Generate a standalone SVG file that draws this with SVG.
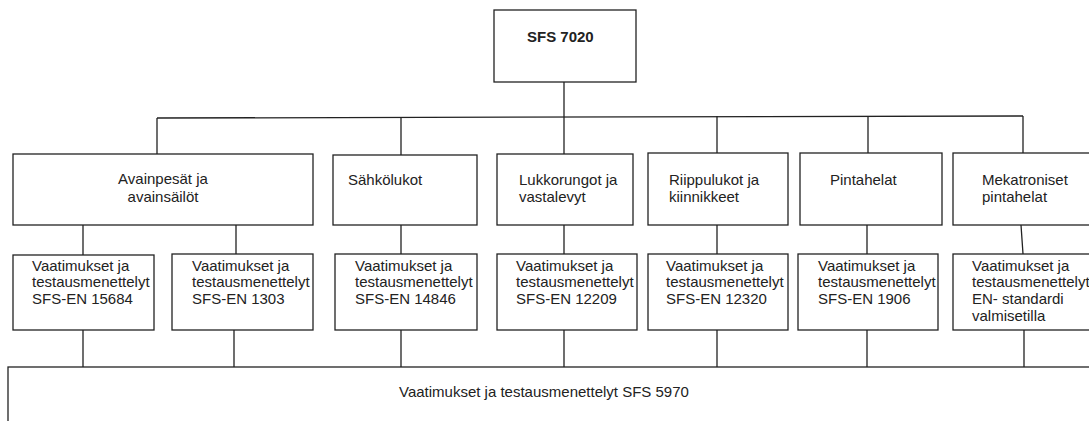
<svg xmlns="http://www.w3.org/2000/svg" width="1089" height="421" viewBox="0 0 1089 421">
<style>
.box{fill:#fff;stroke:#222;stroke-width:1.3}
.ln{stroke:#222;stroke-width:1.3;fill:none}
text{font-family:"Liberation Sans",Arial,sans-serif;font-size:15px;fill:#222}
.b{font-weight:bold}
</style>
<rect width="1089" height="421" fill="#fff"/>
<g id="connectors">
<path class="ln" d="M564 82V154"/>
<path class="ln" d="M157 118L1023 116"/>
<path class="ln" d="M157 118V154M401 117V155M717 116V153M868 116V153M1023 116V153"/>
<path class="ln" d="M83 225V255M236 225V254M401 225V254M564 225V254M717 225V254M867 225V254M1021 225L1023 254"/>
<path class="ln" d="M83 330V367M234 330V367M401 330V367M564 330V367M717 330V367M867 330V367M1024 330V367"/>
</g>
<g id="n-root"><rect class="box" x="494" y="10" width="142" height="72"/><text class="b" x="527" y="42">SFS 7020</text></g>
<g id="n-avain"><rect class="box" x="13" y="154" width="300" height="71"/><text x="163" y="184" text-anchor="middle">Avainpesät ja</text><text x="163" y="202" text-anchor="middle">avainsäilöt</text></g>
<g id="n-sahko"><rect class="box" x="333" y="155" width="144" height="70"/><text x="348" y="185">Sähkölukot</text></g>
<g id="n-lukko"><rect class="box" x="497" y="154" width="136" height="71"/><text x="519" y="185">Lukkorungot ja</text><text x="519" y="202">vastalevyt</text></g>
<g id="n-riippu"><rect class="box" x="648" y="153" width="140" height="72"/><text x="669" y="185">Riippulukot ja</text><text x="669" y="202">kiinnikkeet</text></g>
<g id="n-pinta"><rect class="box" x="800" y="153" width="142" height="72"/><text x="830" y="185">Pintahelat</text></g>
<g id="n-meka"><rect class="box" x="953" y="153" width="145" height="72"/><text x="982" y="185">Mekatroniset</text><text x="982" y="202">pintahelat</text></g>
<g id="n-15684"><rect class="box" x="13" y="255" width="141" height="75"/><text x="32" y="271">Vaatimukset ja</text><text x="32" y="287">testausmenettelyt</text><text x="32" y="304">SFS-EN 15684</text></g>
<g id="n-1303"><rect class="box" x="172" y="254" width="141" height="76"/><text x="192" y="271">Vaatimukset ja</text><text x="192" y="287">testausmenettelyt</text><text x="192" y="304">SFS-EN 1303</text></g>
<g id="n-14846"><rect class="box" x="335" y="254" width="142" height="76"/><text x="355" y="271">Vaatimukset ja</text><text x="355" y="287">testausmenettelyt</text><text x="355" y="304">SFS-EN 14846</text></g>
<g id="n-12209"><rect class="box" x="497" y="254" width="140" height="76"/><text x="516" y="271">Vaatimukset ja</text><text x="516" y="287">testausmenettelyt</text><text x="516" y="304">SFS-EN 12209</text></g>
<g id="n-12320"><rect class="box" x="648" y="254" width="140" height="76"/><text x="666" y="271">Vaatimukset ja</text><text x="666" y="287">testausmenettelyt</text><text x="666" y="304">SFS-EN 12320</text></g>
<g id="n-1906"><rect class="box" x="798" y="254" width="140" height="76"/><text x="818" y="271">Vaatimukset ja</text><text x="818" y="287">testausmenettelyt</text><text x="818" y="304">SFS-EN 1906</text></g>
<g id="n-en"><rect class="box" x="953" y="254" width="145" height="76"/><text x="972" y="271">Vaatimukset ja</text><text x="972" y="287">testausmenettelyt</text><text x="972" y="304">EN- standardi</text><text x="972" y="321">valmisetilla</text></g>
<g id="n-5970"><rect class="box" x="8" y="367" width="1090" height="70"/><text x="399" y="397">Vaatimukset ja testausmenettelyt SFS 5970</text></g>
</svg>
